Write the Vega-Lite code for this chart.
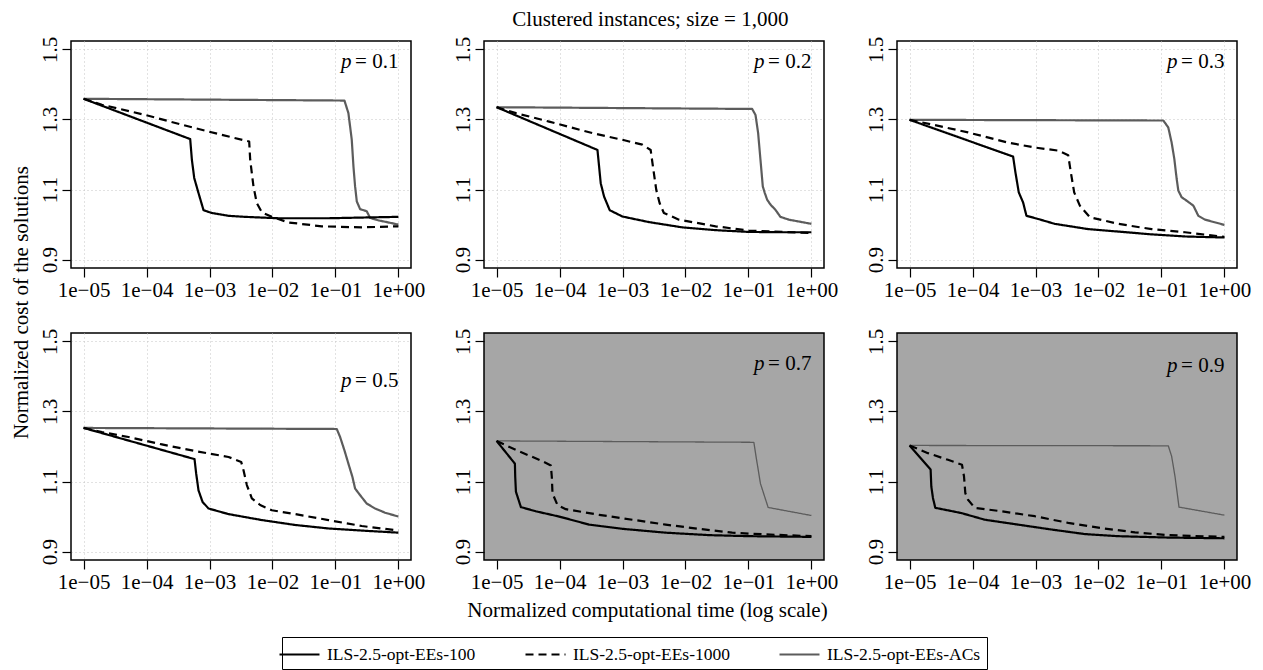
{
  "$schema": "https://vega.github.io/schema/vega-lite/v6.json",
  "padding": {"left": 9, "top": 8, "right": 5, "bottom": 0},
  "background": "white",
  "title": {"text": "Clustered instances; size = 1,000", "anchor": "middle", "dx": 20, "fontSize": 21, "font": "Liberation Serif", "fontWeight": "normal", "color": "black", "offset": 6},
  "config": {
    "font": "Liberation Serif",
    "view": {"stroke": "black", "strokeWidth": 1.5},
    "axis": {"labelFont": "Liberation Serif", "labelFontSize": 21, "labelColor": "black", "tickColor": "black", "tickSize": 9, "tickWidth": 1.2, "domain": false, "grid": true, "gridColor": "#c4c4c4", "gridDash": [1, 3], "gridWidth": 1, "titleFont": "Liberation Serif", "titleFontSize": 21, "titleFontWeight": "normal", "titleColor": "black"},
    "title": {"font": "Liberation Serif", "fontSize": 21, "fontWeight": "normal", "color": "black"},
    "legend": {"orient": "none", "legendX": 211, "legendY": 596, "direction": "horizontal", "symbolType": "M-2,0H2", "symbolSize": 400, "symbolStrokeWidth": 2.2, "labelFont": "Liberation Serif", "labelFontSize": 17.5, "labelColor": "black", "strokeColor": "black", "padding": 6, "columnPadding": 45, "labelOffset": 16, "labelLimit": 300}
  },
  "datasets": {
    "labels": [
      {"p": 0.1, "sym": "p", "label": "= 0.1"},
      {"p": 0.2, "sym": "p", "label": "= 0.2"},
      {"p": 0.3, "sym": "p", "label": "= 0.3"},
      {"p": 0.5, "sym": "p", "label": "= 0.5"},
      {"p": 0.7, "sym": "p", "label": "= 0.7"},
      {"p": 0.9, "sym": "p", "label": "= 0.9"}
    ],
    "curves": [
      {"p":0.1,"s":"ILS-2.5-opt-EEs-ACs","t":1e-5,"c":1.359},
      {"p":0.1,"s":"ILS-2.5-opt-EEs-ACs","t":0.139,"c":1.354},
      {"p":0.1,"s":"ILS-2.5-opt-EEs-ACs","t":0.1607,"c":1.318},
      {"p":0.1,"s":"ILS-2.5-opt-EEs-ACs","t":0.1816,"c":1.242},
      {"p":0.1,"s":"ILS-2.5-opt-EEs-ACs","t":0.1932,"c":1.166},
      {"p":0.1,"s":"ILS-2.5-opt-EEs-ACs","t":0.2051,"c":1.109},
      {"p":0.1,"s":"ILS-2.5-opt-EEs-ACs","t":0.2183,"c":1.066},
      {"p":0.1,"s":"ILS-2.5-opt-EEs-ACs","t":0.2466,"c":1.044},
      {"p":0.1,"s":"ILS-2.5-opt-EEs-ACs","t":0.3141,"c":1.038},
      {"p":0.1,"s":"ILS-2.5-opt-EEs-ACs","t":0.3548,"c":1.019},
      {"p":0.1,"s":"ILS-2.5-opt-EEs-ACs","t":0.4819,"c":1.012},
      {"p":0.1,"s":"ILS-2.5-opt-EEs-ACs","t":1,"c":1.000},
      {"p":0.1,"s":"ILS-2.5-opt-EEs-100","t":1e-5,"c":1.359},
      {"p":0.1,"s":"ILS-2.5-opt-EEs-100","t":4.932e-4,"c":1.244},
      {"p":0.1,"s":"ILS-2.5-opt-EEs-100","t":5.248e-4,"c":1.185},
      {"p":0.1,"s":"ILS-2.5-opt-EEs-100","t":5.715e-4,"c":1.133},
      {"p":0.1,"s":"ILS-2.5-opt-EEs-100","t":6.683e-4,"c":1.090},
      {"p":0.1,"s":"ILS-2.5-opt-EEs-100","t":8.035e-4,"c":1.041},
      {"p":0.1,"s":"ILS-2.5-opt-EEs-100","t":1.089e-3,"c":1.033},
      {"p":0.1,"s":"ILS-2.5-opt-EEs-100","t":2.004e-3,"c":1.025},
      {"p":0.1,"s":"ILS-2.5-opt-EEs-100","t":3.681e-3,"c":1.022},
      {"p":0.1,"s":"ILS-2.5-opt-EEs-100","t":1.245e-2,"c":1.018},
      {"p":0.1,"s":"ILS-2.5-opt-EEs-100","t":7.745e-2,"c":1.018},
      {"p":0.1,"s":"ILS-2.5-opt-EEs-100","t":0.2618,"c":1.020},
      {"p":0.1,"s":"ILS-2.5-opt-EEs-100","t":1,"c":1.022},
      {"p":0.1,"s":"ILS-2.5-opt-EEs-1000","t":1e-5,"c":1.359},
      {"p":0.1,"s":"ILS-2.5-opt-EEs-1000","t":1.954e-5,"c":1.342},
      {"p":0.1,"s":"ILS-2.5-opt-EEs-1000","t":9.528e-5,"c":1.313},
      {"p":0.1,"s":"ILS-2.5-opt-EEs-1000","t":3.639e-4,"c":1.285},
      {"p":0.1,"s":"ILS-2.5-opt-EEs-1000","t":1.570e-3,"c":1.256},
      {"p":0.1,"s":"ILS-2.5-opt-EEs-1000","t":4.266e-3,"c":1.237},
      {"p":0.1,"s":"ILS-2.5-opt-EEs-1000","t":4.426e-3,"c":1.185},
      {"p":0.1,"s":"ILS-2.5-opt-EEs-1000","t":4.989e-3,"c":1.109},
      {"p":0.1,"s":"ILS-2.5-opt-EEs-1000","t":5.636e-3,"c":1.061},
      {"p":0.1,"s":"ILS-2.5-opt-EEs-1000","t":6.776e-3,"c":1.035},
      {"p":0.1,"s":"ILS-2.5-opt-EEs-1000","t":9.750e-3,"c":1.022},
      {"p":0.1,"s":"ILS-2.5-opt-EEs-1000","t":1.795e-2,"c":1.006},
      {"p":0.1,"s":"ILS-2.5-opt-EEs-1000","t":6.067e-2,"c":0.995},
      {"p":0.1,"s":"ILS-2.5-opt-EEs-1000","t":0.2618,"c":0.992},
      {"p":0.1,"s":"ILS-2.5-opt-EEs-1000","t":1,"c":0.995},

      {"p":0.2,"s":"ILS-2.5-opt-EEs-ACs","t":1e-5,"c":1.335},
      {"p":0.2,"s":"ILS-2.5-opt-EEs-ACs","t":0.1146,"c":1.330},
      {"p":0.2,"s":"ILS-2.5-opt-EEs-ACs","t":0.1294,"c":1.313},
      {"p":0.2,"s":"ILS-2.5-opt-EEs-ACs","t":0.1426,"c":1.261},
      {"p":0.2,"s":"ILS-2.5-opt-EEs-ACs","t":0.1552,"c":1.185},
      {"p":0.2,"s":"ILS-2.5-opt-EEs-ACs","t":0.1690,"c":1.109},
      {"p":0.2,"s":"ILS-2.5-opt-EEs-ACs","t":0.1820,"c":1.090},
      {"p":0.2,"s":"ILS-2.5-opt-EEs-ACs","t":0.1982,"c":1.071},
      {"p":0.2,"s":"ILS-2.5-opt-EEs-ACs","t":0.2239,"c":1.057},
      {"p":0.2,"s":"ILS-2.5-opt-EEs-ACs","t":0.2685,"c":1.042},
      {"p":0.2,"s":"ILS-2.5-opt-EEs-ACs","t":0.3221,"c":1.022},
      {"p":0.2,"s":"ILS-2.5-opt-EEs-ACs","t":0.4375,"c":1.014},
      {"p":0.2,"s":"ILS-2.5-opt-EEs-ACs","t":1,"c":1.002},
      {"p":0.2,"s":"ILS-2.5-opt-EEs-100","t":1e-5,"c":1.335},
      {"p":0.2,"s":"ILS-2.5-opt-EEs-100","t":4.000e-4,"c":1.213},
      {"p":0.2,"s":"ILS-2.5-opt-EEs-100","t":4.246e-4,"c":1.166},
      {"p":0.2,"s":"ILS-2.5-opt-EEs-100","t":4.508e-4,"c":1.118},
      {"p":0.2,"s":"ILS-2.5-opt-EEs-100","t":5.093e-4,"c":1.080},
      {"p":0.2,"s":"ILS-2.5-opt-EEs-100","t":6.266e-4,"c":1.041},
      {"p":0.2,"s":"ILS-2.5-opt-EEs-100","t":9.954e-4,"c":1.023},
      {"p":0.2,"s":"ILS-2.5-opt-EEs-100","t":2.636e-3,"c":1.007},
      {"p":0.2,"s":"ILS-2.5-opt-EEs-100","t":8.892e-3,"c":0.992},
      {"p":0.2,"s":"ILS-2.5-opt-EEs-100","t":3.006e-2,"c":0.984},
      {"p":0.2,"s":"ILS-2.5-opt-EEs-100","t":0.1014,"c":0.979},
      {"p":0.2,"s":"ILS-2.5-opt-EEs-100","t":0.3428,"c":0.978},
      {"p":0.2,"s":"ILS-2.5-opt-EEs-100","t":1,"c":0.978},
      {"p":0.2,"s":"ILS-2.5-opt-EEs-1000","t":1e-5,"c":1.335},
      {"p":0.2,"s":"ILS-2.5-opt-EEs-1000","t":2.028e-5,"c":1.318},
      {"p":0.2,"s":"ILS-2.5-opt-EEs-1000","t":6.839e-5,"c":1.294},
      {"p":0.2,"s":"ILS-2.5-opt-EEs-1000","t":3.327e-4,"c":1.261},
      {"p":0.2,"s":"ILS-2.5-opt-EEs-1000","t":9.954e-4,"c":1.242},
      {"p":0.2,"s":"ILS-2.5-opt-EEs-1000","t":2.065e-3,"c":1.228},
      {"p":0.2,"s":"ILS-2.5-opt-EEs-1000","t":2.799e-3,"c":1.213},
      {"p":0.2,"s":"ILS-2.5-opt-EEs-1000","t":3.041e-3,"c":1.166},
      {"p":0.2,"s":"ILS-2.5-opt-EEs-1000","t":3.436e-3,"c":1.099},
      {"p":0.2,"s":"ILS-2.5-opt-EEs-1000","t":3.890e-3,"c":1.061},
      {"p":0.2,"s":"ILS-2.5-opt-EEs-1000","t":4.539e-3,"c":1.033},
      {"p":0.2,"s":"ILS-2.5-opt-EEs-1000","t":7.870e-3,"c":1.014},
      {"p":0.2,"s":"ILS-2.5-opt-EEs-1000","t":3.006e-2,"c":0.995},
      {"p":0.2,"s":"ILS-2.5-opt-EEs-1000","t":0.1014,"c":0.983},
      {"p":0.2,"s":"ILS-2.5-opt-EEs-1000","t":0.3428,"c":0.979},
      {"p":0.2,"s":"ILS-2.5-opt-EEs-1000","t":1,"c":0.976},

      {"p":0.3,"s":"ILS-2.5-opt-EEs-ACs","t":1e-5,"c":1.299},
      {"p":0.3,"s":"ILS-2.5-opt-EEs-ACs","t":0.1072,"c":1.297},
      {"p":0.3,"s":"ILS-2.5-opt-EEs-ACs","t":0.1285,"c":1.277},
      {"p":0.3,"s":"ILS-2.5-opt-EEs-ACs","t":0.1452,"c":1.234},
      {"p":0.3,"s":"ILS-2.5-opt-EEs-ACs","t":0.1603,"c":1.187},
      {"p":0.3,"s":"ILS-2.5-opt-EEs-ACs","t":0.1746,"c":1.130},
      {"p":0.3,"s":"ILS-2.5-opt-EEs-ACs","t":0.1854,"c":1.097},
      {"p":0.3,"s":"ILS-2.5-opt-EEs-ACs","t":0.2094,"c":1.078},
      {"p":0.3,"s":"ILS-2.5-opt-EEs-ACs","t":0.2518,"c":1.068},
      {"p":0.3,"s":"ILS-2.5-opt-EEs-ACs","t":0.3214,"c":1.054},
      {"p":0.3,"s":"ILS-2.5-opt-EEs-ACs","t":0.3855,"c":1.025},
      {"p":0.3,"s":"ILS-2.5-opt-EEs-ACs","t":0.4920,"c":1.014},
      {"p":0.3,"s":"ILS-2.5-opt-EEs-ACs","t":1,"c":0.999},
      {"p":0.3,"s":"ILS-2.5-opt-EEs-100","t":1e-5,"c":1.299},
      {"p":0.3,"s":"ILS-2.5-opt-EEs-100","t":4.406e-4,"c":1.194},
      {"p":0.3,"s":"ILS-2.5-opt-EEs-100","t":4.797e-4,"c":1.149},
      {"p":0.3,"s":"ILS-2.5-opt-EEs-100","t":5.420e-4,"c":1.092},
      {"p":0.3,"s":"ILS-2.5-opt-EEs-100","t":6.353e-4,"c":1.063},
      {"p":0.3,"s":"ILS-2.5-opt-EEs-100","t":7.178e-4,"c":1.025},
      {"p":0.3,"s":"ILS-2.5-opt-EEs-100","t":1.099e-3,"c":1.016},
      {"p":0.3,"s":"ILS-2.5-opt-EEs-100","t":2.023e-3,"c":1.002},
      {"p":0.3,"s":"ILS-2.5-opt-EEs-100","t":6.871e-3,"c":0.987},
      {"p":0.3,"s":"ILS-2.5-opt-EEs-100","t":2.061e-2,"c":0.980},
      {"p":0.3,"s":"ILS-2.5-opt-EEs-100","t":6.982e-2,"c":0.972},
      {"p":0.3,"s":"ILS-2.5-opt-EEs-100","t":0.2366,"c":0.966},
      {"p":0.3,"s":"ILS-2.5-opt-EEs-100","t":1,"c":0.963},
      {"p":0.3,"s":"ILS-2.5-opt-EEs-1000","t":1e-5,"c":1.299},
      {"p":0.3,"s":"ILS-2.5-opt-EEs-1000","t":2.500e-5,"c":1.284},
      {"p":0.3,"s":"ILS-2.5-opt-EEs-1000","t":8.472e-5,"c":1.263},
      {"p":0.3,"s":"ILS-2.5-opt-EEs-1000","t":3.664e-4,"c":1.234},
      {"p":0.3,"s":"ILS-2.5-opt-EEs-1000","t":9.727e-4,"c":1.220},
      {"p":0.3,"s":"ILS-2.5-opt-EEs-1000","t":2.291e-3,"c":1.211},
      {"p":0.3,"s":"ILS-2.5-opt-EEs-1000","t":3.304e-3,"c":1.198},
      {"p":0.3,"s":"ILS-2.5-opt-EEs-1000","t":3.639e-3,"c":1.149},
      {"p":0.3,"s":"ILS-2.5-opt-EEs-1000","t":4.111e-3,"c":1.092},
      {"p":0.3,"s":"ILS-2.5-opt-EEs-1000","t":5.058e-3,"c":1.054},
      {"p":0.3,"s":"ILS-2.5-opt-EEs-1000","t":7.295e-3,"c":1.021},
      {"p":0.3,"s":"ILS-2.5-opt-EEs-1000","t":2.061e-2,"c":1.002},
      {"p":0.3,"s":"ILS-2.5-opt-EEs-1000","t":6.982e-2,"c":0.987},
      {"p":0.3,"s":"ILS-2.5-opt-EEs-1000","t":0.2366,"c":0.978},
      {"p":0.3,"s":"ILS-2.5-opt-EEs-1000","t":1,"c":0.965},

      {"p":0.5,"s":"ILS-2.5-opt-EEs-ACs","t":1e-5,"c":1.253},
      {"p":0.5,"s":"ILS-2.5-opt-EEs-ACs","t":0.1050,"c":1.250},
      {"p":0.5,"s":"ILS-2.5-opt-EEs-ACs","t":0.1186,"c":1.227},
      {"p":0.5,"s":"ILS-2.5-opt-EEs-ACs","t":0.1390,"c":1.189},
      {"p":0.5,"s":"ILS-2.5-opt-EEs-ACs","t":0.1607,"c":1.151},
      {"p":0.5,"s":"ILS-2.5-opt-EEs-ACs","t":0.1862,"c":1.113},
      {"p":0.5,"s":"ILS-2.5-opt-EEs-ACs","t":0.2051,"c":1.080},
      {"p":0.5,"s":"ILS-2.5-opt-EEs-ACs","t":0.2466,"c":1.061},
      {"p":0.5,"s":"ILS-2.5-opt-EEs-ACs","t":0.3141,"c":1.037},
      {"p":0.5,"s":"ILS-2.5-opt-EEs-ACs","t":0.4266,"c":1.023},
      {"p":0.5,"s":"ILS-2.5-opt-EEs-ACs","t":0.6138,"c":1.011},
      {"p":0.5,"s":"ILS-2.5-opt-EEs-ACs","t":1,"c":1.000},
      {"p":0.5,"s":"ILS-2.5-opt-EEs-100","t":1e-5,"c":1.253},
      {"p":0.5,"s":"ILS-2.5-opt-EEs-100","t":5.781e-4,"c":1.164},
      {"p":0.5,"s":"ILS-2.5-opt-EEs-100","t":6.138e-4,"c":1.123},
      {"p":0.5,"s":"ILS-2.5-opt-EEs-100","t":6.683e-4,"c":1.075},
      {"p":0.5,"s":"ILS-2.5-opt-EEs-100","t":7.745e-4,"c":1.042},
      {"p":0.5,"s":"ILS-2.5-opt-EEs-100","t":9.638e-4,"c":1.023},
      {"p":0.5,"s":"ILS-2.5-opt-EEs-100","t":2.004e-3,"c":1.007},
      {"p":0.5,"s":"ILS-2.5-opt-EEs-100","t":6.776e-3,"c":0.990},
      {"p":0.5,"s":"ILS-2.5-opt-EEs-100","t":2.291e-2,"c":0.976},
      {"p":0.5,"s":"ILS-2.5-opt-EEs-100","t":7.745e-2,"c":0.966},
      {"p":0.5,"s":"ILS-2.5-opt-EEs-100","t":0.2618,"c":0.960},
      {"p":0.5,"s":"ILS-2.5-opt-EEs-100","t":1,"c":0.954},
      {"p":0.5,"s":"ILS-2.5-opt-EEs-1000","t":1e-5,"c":1.253},
      {"p":0.5,"s":"ILS-2.5-opt-EEs-1000","t":1.954e-5,"c":1.241},
      {"p":0.5,"s":"ILS-2.5-opt-EEs-1000","t":5.176e-5,"c":1.227},
      {"p":0.5,"s":"ILS-2.5-opt-EEs-1000","t":1.750e-4,"c":1.206},
      {"p":0.5,"s":"ILS-2.5-opt-EEs-1000","t":5.916e-4,"c":1.187},
      {"p":0.5,"s":"ILS-2.5-opt-EEs-1000","t":2.004e-3,"c":1.170},
      {"p":0.5,"s":"ILS-2.5-opt-EEs-1000","t":3.184e-3,"c":1.156},
      {"p":0.5,"s":"ILS-2.5-opt-EEs-1000","t":3.467e-3,"c":1.132},
      {"p":0.5,"s":"ILS-2.5-opt-EEs-1000","t":3.917e-3,"c":1.090},
      {"p":0.5,"s":"ILS-2.5-opt-EEs-1000","t":4.699e-3,"c":1.052},
      {"p":0.5,"s":"ILS-2.5-opt-EEs-1000","t":6.368e-3,"c":1.033},
      {"p":0.5,"s":"ILS-2.5-opt-EEs-1000","t":9.750e-3,"c":1.018},
      {"p":0.5,"s":"ILS-2.5-opt-EEs-1000","t":2.291e-2,"c":1.007},
      {"p":0.5,"s":"ILS-2.5-opt-EEs-1000","t":7.745e-2,"c":0.990},
      {"p":0.5,"s":"ILS-2.5-opt-EEs-1000","t":0.2618,"c":0.973},
      {"p":0.5,"s":"ILS-2.5-opt-EEs-1000","t":1,"c":0.960},

      {"p":0.7,"s":"ILS-2.5-opt-EEs-ACs","t":1e-5,"c":1.216},
      {"p":0.7,"s":"ILS-2.5-opt-EEs-ACs","t":0.1219,"c":1.212},
      {"p":0.7,"s":"ILS-2.5-opt-EEs-ACs","t":0.1327,"c":1.169},
      {"p":0.7,"s":"ILS-2.5-opt-EEs-ACs","t":0.1552,"c":1.094},
      {"p":0.7,"s":"ILS-2.5-opt-EEs-ACs","t":0.2056,"c":1.026},
      {"p":0.7,"s":"ILS-2.5-opt-EEs-ACs","t":1,"c":1.003},
      {"p":0.7,"s":"ILS-2.5-opt-EEs-100","t":1e-5,"c":1.216},
      {"p":0.7,"s":"ILS-2.5-opt-EEs-100","t":1.954e-5,"c":1.151},
      {"p":0.7,"s":"ILS-2.5-opt-EEs-100","t":1.977e-5,"c":1.113},
      {"p":0.7,"s":"ILS-2.5-opt-EEs-100","t":2.028e-5,"c":1.071},
      {"p":0.7,"s":"ILS-2.5-opt-EEs-100","t":2.432e-5,"c":1.027},
      {"p":0.7,"s":"ILS-2.5-opt-EEs-100","t":4.207e-5,"c":1.015},
      {"p":0.7,"s":"ILS-2.5-opt-EEs-100","t":9.863e-5,"c":1.000},
      {"p":0.7,"s":"ILS-2.5-opt-EEs-100","t":2.944e-4,"c":0.977},
      {"p":0.7,"s":"ILS-2.5-opt-EEs-100","t":9.954e-4,"c":0.965},
      {"p":0.7,"s":"ILS-2.5-opt-EEs-100","t":4.842e-3,"c":0.954},
      {"p":0.7,"s":"ILS-2.5-opt-EEs-100","t":2.355e-2,"c":0.947},
      {"p":0.7,"s":"ILS-2.5-opt-EEs-100","t":0.1014,"c":0.944},
      {"p":0.7,"s":"ILS-2.5-opt-EEs-100","t":1,"c":0.942},
      {"p":0.7,"s":"ILS-2.5-opt-EEs-1000","t":1e-5,"c":1.216},
      {"p":0.7,"s":"ILS-2.5-opt-EEs-1000","t":2.028e-5,"c":1.190},
      {"p":0.7,"s":"ILS-2.5-opt-EEs-1000","t":5.047e-5,"c":1.160},
      {"p":0.7,"s":"ILS-2.5-opt-EEs-1000","t":7.278e-5,"c":1.146},
      {"p":0.7,"s":"ILS-2.5-opt-EEs-1000","t":7.534e-5,"c":1.113},
      {"p":0.7,"s":"ILS-2.5-opt-EEs-1000","t":7.727e-5,"c":1.066},
      {"p":0.7,"s":"ILS-2.5-opt-EEs-1000","t":9.268e-5,"c":1.033},
      {"p":0.7,"s":"ILS-2.5-opt-EEs-1000","t":1.256e-4,"c":1.021},
      {"p":0.7,"s":"ILS-2.5-opt-EEs-1000","t":4.246e-4,"c":1.005},
      {"p":0.7,"s":"ILS-2.5-opt-EEs-1000","t":1.432e-3,"c":0.991},
      {"p":0.7,"s":"ILS-2.5-opt-EEs-1000","t":4.842e-3,"c":0.977},
      {"p":0.7,"s":"ILS-2.5-opt-EEs-1000","t":1.633e-2,"c":0.965},
      {"p":0.7,"s":"ILS-2.5-opt-EEs-1000","t":5.521e-2,"c":0.954},
      {"p":0.7,"s":"ILS-2.5-opt-EEs-1000","t":0.1866,"c":0.949},
      {"p":0.7,"s":"ILS-2.5-opt-EEs-1000","t":1,"c":0.944},

      {"p":0.9,"s":"ILS-2.5-opt-EEs-ACs","t":1e-5,"c":1.203},
      {"p":0.9,"s":"ILS-2.5-opt-EEs-ACs","t":0.1285,"c":1.202},
      {"p":0.9,"s":"ILS-2.5-opt-EEs-ACs","t":0.1452,"c":1.172},
      {"p":0.9,"s":"ILS-2.5-opt-EEs-ACs","t":0.1641,"c":1.115},
      {"p":0.9,"s":"ILS-2.5-opt-EEs-ACs","t":0.1901,"c":1.027},
      {"p":0.9,"s":"ILS-2.5-opt-EEs-ACs","t":1,"c":1.004},
      {"p":0.9,"s":"ILS-2.5-opt-EEs-100","t":1e-5,"c":1.203},
      {"p":0.9,"s":"ILS-2.5-opt-EEs-100","t":2.158e-5,"c":1.134},
      {"p":0.9,"s":"ILS-2.5-opt-EEs-100","t":2.213e-5,"c":1.086},
      {"p":0.9,"s":"ILS-2.5-opt-EEs-100","t":2.350e-5,"c":1.053},
      {"p":0.9,"s":"ILS-2.5-opt-EEs-100","t":2.559e-5,"c":1.025},
      {"p":0.9,"s":"ILS-2.5-opt-EEs-100","t":6.637e-5,"c":1.010},
      {"p":0.9,"s":"ILS-2.5-opt-EEs-100","t":1.560e-4,"c":0.991},
      {"p":0.9,"s":"ILS-2.5-opt-EEs-100","t":5.284e-4,"c":0.977},
      {"p":0.9,"s":"ILS-2.5-opt-EEs-100","t":1.791e-3,"c":0.963},
      {"p":0.9,"s":"ILS-2.5-opt-EEs-100","t":6.081e-3,"c":0.950},
      {"p":0.9,"s":"ILS-2.5-opt-EEs-100","t":2.061e-2,"c":0.944},
      {"p":0.9,"s":"ILS-2.5-opt-EEs-100","t":0.1285,"c":0.940},
      {"p":0.9,"s":"ILS-2.5-opt-EEs-100","t":1,"c":0.938},
      {"p":0.9,"s":"ILS-2.5-opt-EEs-1000","t":1e-5,"c":1.203},
      {"p":0.9,"s":"ILS-2.5-opt-EEs-1000","t":1.959e-5,"c":1.181},
      {"p":0.9,"s":"ILS-2.5-opt-EEs-1000","t":4.074e-5,"c":1.162},
      {"p":0.9,"s":"ILS-2.5-opt-EEs-1000","t":6.792e-5,"c":1.148},
      {"p":0.9,"s":"ILS-2.5-opt-EEs-1000","t":7.311e-5,"c":1.115},
      {"p":0.9,"s":"ILS-2.5-opt-EEs-1000","t":7.674e-5,"c":1.067},
      {"p":0.9,"s":"ILS-2.5-opt-EEs-1000","t":8.472e-5,"c":1.048},
      {"p":0.9,"s":"ILS-2.5-opt-EEs-1000","t":1.081e-4,"c":1.025},
      {"p":0.9,"s":"ILS-2.5-opt-EEs-1000","t":2.871e-4,"c":1.015},
      {"p":0.9,"s":"ILS-2.5-opt-EEs-1000","t":9.727e-4,"c":1.001},
      {"p":0.9,"s":"ILS-2.5-opt-EEs-1000","t":3.304e-3,"c":0.982},
      {"p":0.9,"s":"ILS-2.5-opt-EEs-1000","t":1.119e-2,"c":0.967},
      {"p":0.9,"s":"ILS-2.5-opt-EEs-1000","t":3.793e-2,"c":0.955},
      {"p":0.9,"s":"ILS-2.5-opt-EEs-1000","t":0.1285,"c":0.947},
      {"p":0.9,"s":"ILS-2.5-opt-EEs-1000","t":1,"c":0.942}
    ]
  },
  "columns": 3,
  "bounds": "flush",
  "spacing": {"row": 65, "column": 73},
  "concat": [
    {"width": 340, "height": 227, "layer": [
      {"data": {"name": "curves"}, "transform": [{"filter": "datum.p == 0.1"}],
       "mark": {"type": "line", "strokeWidth": 2.2, "strokeJoin": "round"},
       "encoding": {
         "x": {"field": "t", "type": "quantitative", "scale": {"type": "log", "domain": [6.31e-6, 1.585], "nice": false}, "axis": {"title": null, "values": [1e-5, 1e-4, 1e-3, 1e-2, 1e-1, 1], "labelExpr": "datum.value >= 0.5 ? '1e+00' : '1e\u22120' + round(-log(datum.value)/LN10)", "labelOverlap": false, "labelFlush": false, "labelPadding": 2}},
         "y": {"field": "c", "type": "quantitative", "scale": {"domain": [0.876, 1.524], "nice": false, "zero": false}, "axis": {"title": null, "values": [0.9, 1.0, 1.1, 1.2, 1.3, 1.4, 1.5], "labelExpr": "round(datum.value*10) % 2 == 1 ? format(datum.value, '.1f') : ''", "labelAngle": -90, "labelBaseline": "alphabetic", "labelAlign": "center", "labelPadding": 6, "labelOverlap": false, "labelFlush": false}},
         "color": {"field": "s", "type": "nominal", "scale": {"domain": ["ILS-2.5-opt-EEs-100", "ILS-2.5-opt-EEs-1000", "ILS-2.5-opt-EEs-ACs"], "range": ["#000000", "#000000", "#5c5c5c"]}, "legend": {"title": null}},
         "strokeDash": {"field": "s", "type": "nominal", "scale": {"domain": ["ILS-2.5-opt-EEs-100", "ILS-2.5-opt-EEs-1000", "ILS-2.5-opt-EEs-ACs"], "range": [[1, 0], [8, 5], [1, 0]]}, "legend": {"title": null}}
       }},
      {"data": {"name": "labels"}, "transform": [{"filter": "datum.p == 0.1"}],
       "mark": {"type": "text", "align": "right", "baseline": "alphabetic", "fontSize": 21, "font": "Liberation Serif", "color": "black"},
       "encoding": {"x": {"datum": 1}, "y": {"datum": 1.446}, "text": {"field": "label"}}},
      {"data": {"name": "labels"}, "transform": [{"filter": "datum.p == 0.1"}],
       "mark": {"type": "text", "align": "right", "baseline": "alphabetic", "fontSize": 21, "font": "Liberation Serif", "fontStyle": "italic", "color": "black", "dx": -47},
       "encoding": {"x": {"datum": 1}, "y": {"datum": 1.446}, "text": {"field": "sym"}}}
    ]},
    {"width": 340, "height": 227, "layer": [
      {"data": {"name": "curves"}, "transform": [{"filter": "datum.p == 0.2"}],
       "mark": {"type": "line", "strokeWidth": 2.2, "strokeJoin": "round"},
       "encoding": {
         "x": {"field": "t", "type": "quantitative", "scale": {"type": "log", "domain": [6.31e-6, 1.585], "nice": false}, "axis": {"title": null, "values": [1e-5, 1e-4, 1e-3, 1e-2, 1e-1, 1], "labelExpr": "datum.value >= 0.5 ? '1e+00' : '1e\u22120' + round(-log(datum.value)/LN10)", "labelOverlap": false, "labelFlush": false, "labelPadding": 2}},
         "y": {"field": "c", "type": "quantitative", "scale": {"domain": [0.876, 1.524], "nice": false, "zero": false}, "axis": {"title": null, "values": [0.9, 1.0, 1.1, 1.2, 1.3, 1.4, 1.5], "labelExpr": "round(datum.value*10) % 2 == 1 ? format(datum.value, '.1f') : ''", "labelAngle": -90, "labelBaseline": "alphabetic", "labelAlign": "center", "labelPadding": 6, "labelOverlap": false, "labelFlush": false}},
         "color": {"field": "s", "type": "nominal", "scale": {"domain": ["ILS-2.5-opt-EEs-100", "ILS-2.5-opt-EEs-1000", "ILS-2.5-opt-EEs-ACs"], "range": ["#000000", "#000000", "#5c5c5c"]}, "legend": {"title": null}},
         "strokeDash": {"field": "s", "type": "nominal", "scale": {"domain": ["ILS-2.5-opt-EEs-100", "ILS-2.5-opt-EEs-1000", "ILS-2.5-opt-EEs-ACs"], "range": [[1, 0], [8, 5], [1, 0]]}, "legend": {"title": null}}
       }},
      {"data": {"name": "labels"}, "transform": [{"filter": "datum.p == 0.2"}],
       "mark": {"type": "text", "align": "right", "baseline": "alphabetic", "fontSize": 21, "font": "Liberation Serif", "color": "black"},
       "encoding": {"x": {"datum": 1}, "y": {"datum": 1.446}, "text": {"field": "label"}}},
      {"data": {"name": "labels"}, "transform": [{"filter": "datum.p == 0.2"}],
       "mark": {"type": "text", "align": "right", "baseline": "alphabetic", "fontSize": 21, "font": "Liberation Serif", "fontStyle": "italic", "color": "black", "dx": -47},
       "encoding": {"x": {"datum": 1}, "y": {"datum": 1.446}, "text": {"field": "sym"}}}
    ]},
    {"width": 340, "height": 227, "layer": [
      {"data": {"name": "curves"}, "transform": [{"filter": "datum.p == 0.3"}],
       "mark": {"type": "line", "strokeWidth": 2.2, "strokeJoin": "round"},
       "encoding": {
         "x": {"field": "t", "type": "quantitative", "scale": {"type": "log", "domain": [6.31e-6, 1.585], "nice": false}, "axis": {"title": null, "values": [1e-5, 1e-4, 1e-3, 1e-2, 1e-1, 1], "labelExpr": "datum.value >= 0.5 ? '1e+00' : '1e\u22120' + round(-log(datum.value)/LN10)", "labelOverlap": false, "labelFlush": false, "labelPadding": 2}},
         "y": {"field": "c", "type": "quantitative", "scale": {"domain": [0.876, 1.524], "nice": false, "zero": false}, "axis": {"title": null, "values": [0.9, 1.0, 1.1, 1.2, 1.3, 1.4, 1.5], "labelExpr": "round(datum.value*10) % 2 == 1 ? format(datum.value, '.1f') : ''", "labelAngle": -90, "labelBaseline": "alphabetic", "labelAlign": "center", "labelPadding": 6, "labelOverlap": false, "labelFlush": false}},
         "color": {"field": "s", "type": "nominal", "scale": {"domain": ["ILS-2.5-opt-EEs-100", "ILS-2.5-opt-EEs-1000", "ILS-2.5-opt-EEs-ACs"], "range": ["#000000", "#000000", "#5c5c5c"]}, "legend": {"title": null}},
         "strokeDash": {"field": "s", "type": "nominal", "scale": {"domain": ["ILS-2.5-opt-EEs-100", "ILS-2.5-opt-EEs-1000", "ILS-2.5-opt-EEs-ACs"], "range": [[1, 0], [8, 5], [1, 0]]}, "legend": {"title": null}}
       }},
      {"data": {"name": "labels"}, "transform": [{"filter": "datum.p == 0.3"}],
       "mark": {"type": "text", "align": "right", "baseline": "alphabetic", "fontSize": 21, "font": "Liberation Serif", "color": "black"},
       "encoding": {"x": {"datum": 1}, "y": {"datum": 1.446}, "text": {"field": "label"}}},
      {"data": {"name": "labels"}, "transform": [{"filter": "datum.p == 0.3"}],
       "mark": {"type": "text", "align": "right", "baseline": "alphabetic", "fontSize": 21, "font": "Liberation Serif", "fontStyle": "italic", "color": "black", "dx": -47},
       "encoding": {"x": {"datum": 1}, "y": {"datum": 1.446}, "text": {"field": "sym"}}}
    ]},
    {"width": 340, "height": 227, "layer": [
      {"data": {"name": "curves"}, "transform": [{"filter": "datum.p == 0.5"}],
       "mark": {"type": "line", "strokeWidth": 2.2, "strokeJoin": "round"},
       "encoding": {
         "x": {"field": "t", "type": "quantitative", "scale": {"type": "log", "domain": [6.31e-6, 1.585], "nice": false}, "axis": {"title": null, "values": [1e-5, 1e-4, 1e-3, 1e-2, 1e-1, 1], "labelExpr": "datum.value >= 0.5 ? '1e+00' : '1e\u22120' + round(-log(datum.value)/LN10)", "labelOverlap": false, "labelFlush": false, "labelPadding": 2}},
         "y": {"field": "c", "type": "quantitative", "scale": {"domain": [0.876, 1.524], "nice": false, "zero": false}, "axis": {"title": "Normalized cost of the solutions", "titleAngle": -90, "titleAlign": "center", "titleBaseline": "alphabetic", "titleX": -44, "titleY": -31, "values": [0.9, 1.0, 1.1, 1.2, 1.3, 1.4, 1.5], "labelExpr": "round(datum.value*10) % 2 == 1 ? format(datum.value, '.1f') : ''", "labelAngle": -90, "labelBaseline": "alphabetic", "labelAlign": "center", "labelPadding": 6, "labelOverlap": false, "labelFlush": false}},
         "color": {"field": "s", "type": "nominal", "scale": {"domain": ["ILS-2.5-opt-EEs-100", "ILS-2.5-opt-EEs-1000", "ILS-2.5-opt-EEs-ACs"], "range": ["#000000", "#000000", "#5c5c5c"]}, "legend": {"title": null}},
         "strokeDash": {"field": "s", "type": "nominal", "scale": {"domain": ["ILS-2.5-opt-EEs-100", "ILS-2.5-opt-EEs-1000", "ILS-2.5-opt-EEs-ACs"], "range": [[1, 0], [8, 5], [1, 0]]}, "legend": {"title": null}}
       }},
      {"data": {"name": "labels"}, "transform": [{"filter": "datum.p == 0.5"}],
       "mark": {"type": "text", "align": "right", "baseline": "alphabetic", "fontSize": 21, "font": "Liberation Serif", "color": "black"},
       "encoding": {"x": {"datum": 1}, "y": {"datum": 1.369}, "text": {"field": "label"}}},
      {"data": {"name": "labels"}, "transform": [{"filter": "datum.p == 0.5"}],
       "mark": {"type": "text", "align": "right", "baseline": "alphabetic", "fontSize": 21, "font": "Liberation Serif", "fontStyle": "italic", "color": "black", "dx": -47},
       "encoding": {"x": {"datum": 1}, "y": {"datum": 1.369}, "text": {"field": "sym"}}}
    ]},
    {"width": 340, "height": 227, "view": {"fill": "#a6a6a6"}, "layer": [
      {"data": {"name": "curves"}, "transform": [{"filter": "datum.p == 0.7"}],
       "mark": {"type": "line", "strokeJoin": "round"},
       "encoding": {
         "x": {"field": "t", "type": "quantitative", "scale": {"type": "log", "domain": [6.31e-6, 1.585], "nice": false}, "axis": {"title": "Normalized computational time (log scale)", "titleAlign": "center", "titleBaseline": "alphabetic", "titleX": 163, "titleY": 56, "grid": false, "values": [1e-5, 1e-4, 1e-3, 1e-2, 1e-1, 1], "labelExpr": "datum.value >= 0.5 ? '1e+00' : '1e\u22120' + round(-log(datum.value)/LN10)", "labelOverlap": false, "labelFlush": false, "labelPadding": 2}},
         "y": {"field": "c", "type": "quantitative", "scale": {"domain": [0.876, 1.524], "nice": false, "zero": false}, "axis": {"title": null, "grid": false, "values": [0.9, 1.0, 1.1, 1.2, 1.3, 1.4, 1.5], "labelExpr": "round(datum.value*10) % 2 == 1 ? format(datum.value, '.1f') : ''", "labelAngle": -90, "labelBaseline": "alphabetic", "labelAlign": "center", "labelPadding": 6, "labelOverlap": false, "labelFlush": false}},
         "color": {"field": "s", "type": "nominal", "scale": {"domain": ["ILS-2.5-opt-EEs-100", "ILS-2.5-opt-EEs-1000", "ILS-2.5-opt-EEs-ACs"], "range": ["#000000", "#000000", "#5c5c5c"]}, "legend": {"title": null}},
         "strokeDash": {"field": "s", "type": "nominal", "scale": {"domain": ["ILS-2.5-opt-EEs-100", "ILS-2.5-opt-EEs-1000", "ILS-2.5-opt-EEs-ACs"], "range": [[1, 0], [8, 5], [1, 0]]}, "legend": {"title": null}},
         "strokeWidth": {"condition": {"test": "datum.s === 'ILS-2.5-opt-EEs-ACs'", "value": 1.3}, "value": 2.2}
       }},
      {"data": {"name": "labels"}, "transform": [{"filter": "datum.p == 0.7"}],
       "mark": {"type": "text", "align": "right", "baseline": "alphabetic", "fontSize": 21, "font": "Liberation Serif", "color": "black"},
       "encoding": {"x": {"datum": 1}, "y": {"datum": 1.418}, "text": {"field": "label"}}},
      {"data": {"name": "labels"}, "transform": [{"filter": "datum.p == 0.7"}],
       "mark": {"type": "text", "align": "right", "baseline": "alphabetic", "fontSize": 21, "font": "Liberation Serif", "fontStyle": "italic", "color": "black", "dx": -47},
       "encoding": {"x": {"datum": 1}, "y": {"datum": 1.418}, "text": {"field": "sym"}}}
    ]},
    {"width": 340, "height": 227, "view": {"fill": "#a6a6a6"}, "layer": [
      {"data": {"name": "curves"}, "transform": [{"filter": "datum.p == 0.9"}],
       "mark": {"type": "line", "strokeJoin": "round"},
       "encoding": {
         "x": {"field": "t", "type": "quantitative", "scale": {"type": "log", "domain": [6.31e-6, 1.585], "nice": false}, "axis": {"title": null, "grid": false, "values": [1e-5, 1e-4, 1e-3, 1e-2, 1e-1, 1], "labelExpr": "datum.value >= 0.5 ? '1e+00' : '1e\u22120' + round(-log(datum.value)/LN10)", "labelOverlap": false, "labelFlush": false, "labelPadding": 2}},
         "y": {"field": "c", "type": "quantitative", "scale": {"domain": [0.876, 1.524], "nice": false, "zero": false}, "axis": {"title": null, "grid": false, "values": [0.9, 1.0, 1.1, 1.2, 1.3, 1.4, 1.5], "labelExpr": "round(datum.value*10) % 2 == 1 ? format(datum.value, '.1f') : ''", "labelAngle": -90, "labelBaseline": "alphabetic", "labelAlign": "center", "labelPadding": 6, "labelOverlap": false, "labelFlush": false}},
         "color": {"field": "s", "type": "nominal", "scale": {"domain": ["ILS-2.5-opt-EEs-100", "ILS-2.5-opt-EEs-1000", "ILS-2.5-opt-EEs-ACs"], "range": ["#000000", "#000000", "#5c5c5c"]}, "legend": {"title": null}},
         "strokeDash": {"field": "s", "type": "nominal", "scale": {"domain": ["ILS-2.5-opt-EEs-100", "ILS-2.5-opt-EEs-1000", "ILS-2.5-opt-EEs-ACs"], "range": [[1, 0], [8, 5], [1, 0]]}, "legend": {"title": null}},
         "strokeWidth": {"condition": {"test": "datum.s === 'ILS-2.5-opt-EEs-ACs'", "value": 1.3}, "value": 2.2}
       }},
      {"data": {"name": "labels"}, "transform": [{"filter": "datum.p == 0.9"}],
       "mark": {"type": "text", "align": "right", "baseline": "alphabetic", "fontSize": 21, "font": "Liberation Serif", "color": "black"},
       "encoding": {"x": {"datum": 1}, "y": {"datum": 1.414}, "text": {"field": "label"}}},
      {"data": {"name": "labels"}, "transform": [{"filter": "datum.p == 0.9"}],
       "mark": {"type": "text", "align": "right", "baseline": "alphabetic", "fontSize": 21, "font": "Liberation Serif", "fontStyle": "italic", "color": "black", "dx": -47},
       "encoding": {"x": {"datum": 1}, "y": {"datum": 1.414}, "text": {"field": "sym"}}}
    ]}
  ]
}
